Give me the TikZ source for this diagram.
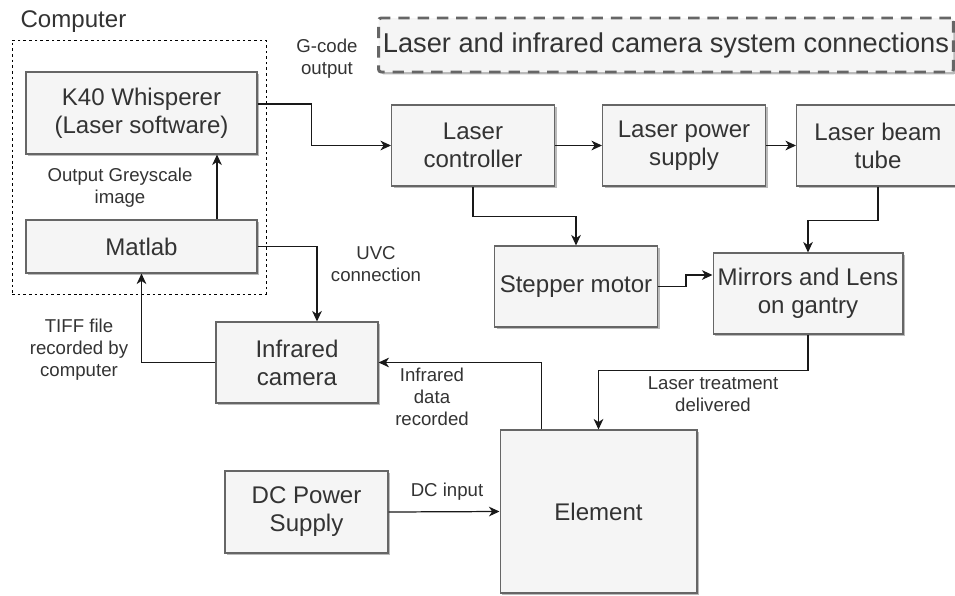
\documentclass[tikz,border=0pt]{standalone}
\usepackage{fontspec}
\setmainfont{Liberation Sans}
\usetikzlibrary{arrows.meta, positioning, calc, shadows}
\definecolor{cfill}{HTML}{F5F5F5}
\definecolor{cline}{HTML}{666666}
\definecolor{ctext}{HTML}{333333}
\tikzset{
  every picture/.style={line width=0.7pt},
  box/.style={draw=cline, fill=cfill, line width=0.6pt, text=ctext, align=center, inner sep=2pt,
    font=\fontsize{13.7}{15.9}\selectfont,
    drop shadow={shadow xshift=1.4pt, shadow yshift=-1.4pt, opacity=0.45, fill=black!60}},
  arrow/.style={-{Stealth[length=6pt, width=5.5pt, inset=1.8pt]}, draw=black!90},
  note/.style={font=\fontsize{10.6}{12.5}\selectfont, text=ctext, align=center, inner sep=0pt},
  titlebox/.style={box, draw=cline, line width=1.7pt, dash pattern=on 6.5pt off 4.5pt, rounded corners=1.5pt,
    font=\fontsize{15.5}{18}\selectfont},
}

\begin{document}
\begin{tikzpicture}[x=0.02cm, y=-0.02cm]
  \useasboundingbox (0,0) rectangle (955,595);
  \clip (0,0) rectangle (955,595);
  % computer group
  \node[draw=black, line width=0.5pt, dash pattern=on 1.5pt off 1.7pt, minimum width=5.08cm, minimum height=5.08cm] (computer) at (139,167) {};
  \node[anchor=west, font=\fontsize{13.7}{16}\selectfont, text=ctext, inner sep=0pt] (comptitle) at (20,22) {Computer};
  \node[titlebox, minimum width=11.5cm, minimum height=1.08cm] (title) at (666,45) {Laser and infrared camera system connections};
  % blocks
  \node[box, minimum width=4.62cm, minimum height=1.64cm] (k40) at (141.5,113) {K40 Whisperer\\(Laser software)};
  \node[box, minimum width=4.62cm, minimum height=1.06cm] (matlab) at (141.5,246.5) {Matlab};
  \node[box, minimum width=3.26cm, minimum height=1.62cm] (ctrl) at (473,145.5) {Laser\\controller};
  \node[box, minimum width=3.26cm, minimum height=1.62cm] (psu) at (684,145.5) {Laser power\\supply};
  \node[box, minimum width=3.26cm, minimum height=1.62cm] (tube) at (878,145.5) {Laser beam\\tube};
  \node[box, minimum width=3.26cm, minimum height=1.62cm] (stepper) at (576,286.5) {Stepper motor};
  \node[box, minimum width=3.8cm, minimum height=1.62cm] (mirrors) at (808,293.5) {Mirrors and Lens\\on gantry};
  \node[box, minimum width=3.24cm, minimum height=1.62cm] (camera) at (297,362.5) {Infrared\\camera};
  \node[box, minimum width=3.94cm, minimum height=3.26cm] (element) at (598.5,511.5) {Element};
  \node[box, minimum width=3.26cm, minimum height=1.64cm] (dcps) at (306.5,512) {DC Power\\Supply};
  % connections
  \draw[arrow] ($(k40.east)+(0,-9)$) -- ++(54,0) |- (ctrl.west);
  \draw[arrow] ($(matlab.north)+(75.5,0)$) -- ($(k40.south)+(75.5,0)$);
  \draw[arrow] (ctrl.east) -- (psu.west);
  \draw[arrow] (psu.east) -- (tube.west);
  \draw[arrow] (ctrl.south) -- ++(0,30) -| (stepper.north);
  \draw[arrow] (tube.south) -- ++(0,34) -| (mirrors.north);
  \draw[arrow] (stepper.east) -- ++(28,0) |- ($(mirrors.west)+(0,-18.5)$);
  \draw[arrow] (mirrors.south) -- ++(0,36) -| (element.north);
  \draw[arrow] ($(element.north)+(-57,0)$) |- (camera.east);
  \draw[arrow] (matlab.east) -| ($(camera.north)+(20,0)$);
  \draw[arrow] (camera.west) -| (matlab.south);
  \draw[arrow] (dcps.east) -- (element.west);
  % labels
  \node[note] (gcode) at (327,59) {G-code\\output};
  \node[note] (grey) at (120,188) {Output Greyscale\\image};
  \node[note] (uvc) at (376,264) {UVC\\connection};
  \node[note] (tiff) at (79,350) {TIFF file\\recorded by\\computer};
  \node[note] (irdata) at (432,397) {Infrared\\data\\recorded};
  \node[note] (treat) at (713,394) {Laser treatment\\delivered};
  \node[note] (dcin) at (447,492) {DC input};
\end{tikzpicture}
\end{document}
